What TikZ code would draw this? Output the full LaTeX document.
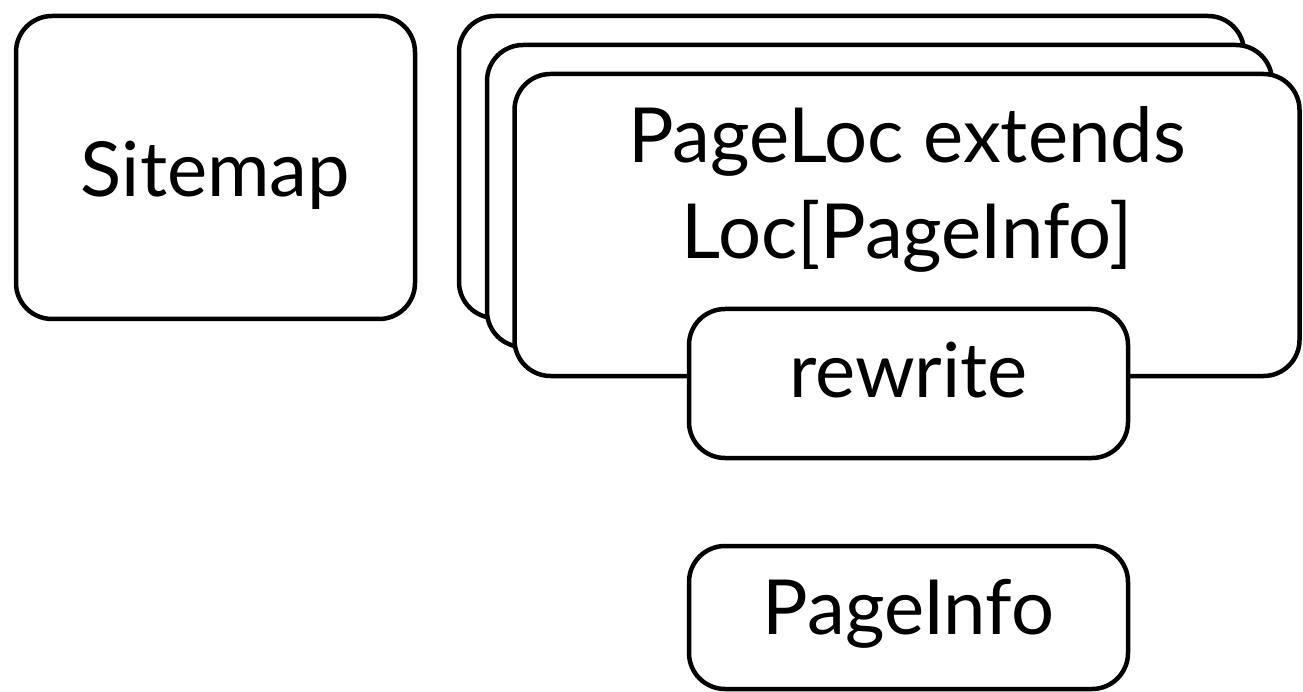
\documentclass[tikz,border=0pt]{standalone}
\usepackage{fontspec}
\setmainfont{Lato}
\begin{document}
\begin{tikzpicture}[x=1pt,y=-1pt,
  box/.style={draw=black, line width=4.5pt, rounded corners=36pt, fill=white, inner sep=0pt, align=center},
  big/.style={box, minimum width=785pt, minimum height=302pt},
  small/.style={box, minimum width=439pt},
  txt/.style={font=\fontsize{76}{96}\selectfont}]
\useasboundingbox (0,0) rectangle (1303,692);
% Sitemap
\node[box, txt, minimum width=399pt, minimum height=303pt, text height=59pt, text depth=0pt] (sitemap) at (215.5,167.5) {Sitemap};
% stacked PageLoc boxes
\node[big] (back) at (851.5,167) {};
\node[big] (middle) at (879.5,196) {};
\node[big] (front) at (907,225) {};
\node[txt, align=center, inner sep=0pt] (pltext) at (907,189.5) {PageLoc extends\\Loc[PageInfo]};
% rewrite
\node[small, txt, minimum height=149pt, text height=40pt, text depth=13pt] (rewrite) at (908.5,383.5) {rewrite};
% PageInfo
\node[small, txt, minimum height=143pt, text height=50pt, text depth=17pt] (pageinfo) at (908.5,617.5) {PageInfo};
\end{tikzpicture}
\end{document}
